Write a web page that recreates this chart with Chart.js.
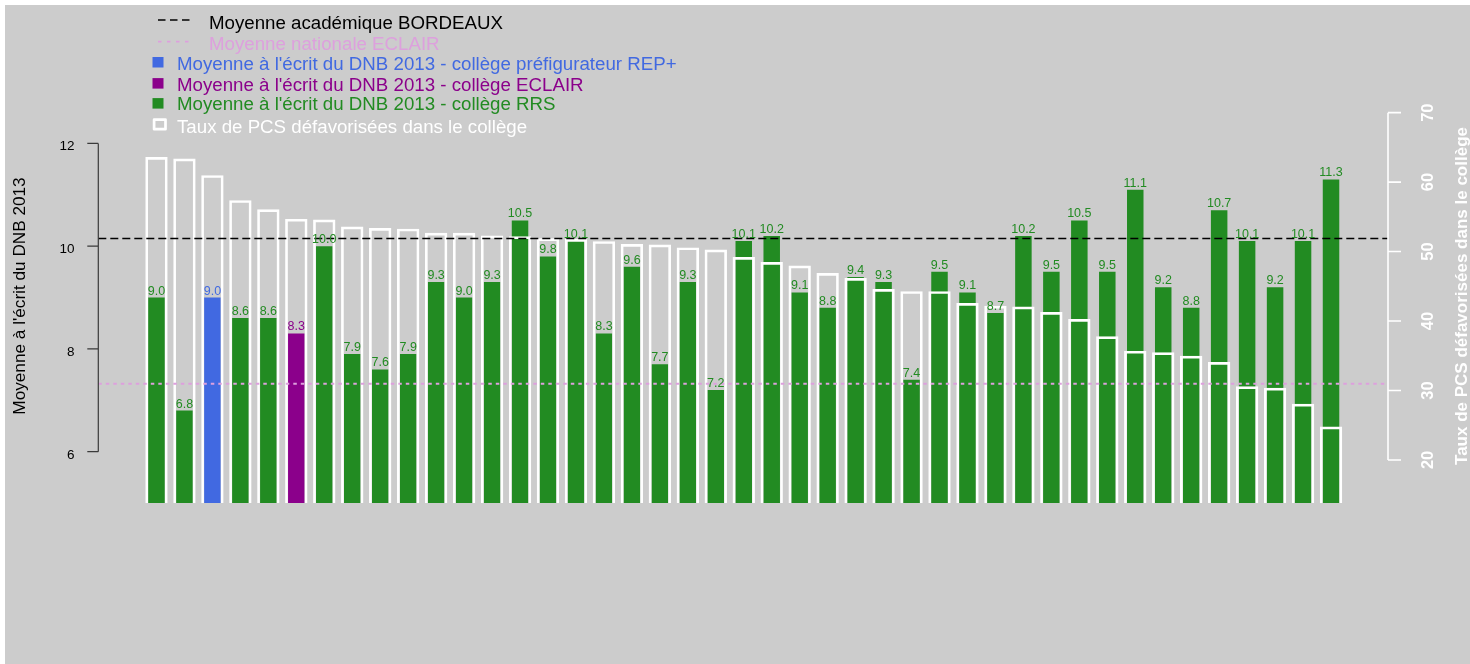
<!DOCTYPE html>
<html lang="fr">
<head>
<meta charset="utf-8">
<title>Moyenne à l'écrit du DNB 2013 et taux de PCS défavorisées</title>
<script src="https://cdn.jsdelivr.net/npm/chart.js@4.4.0/dist/chart.umd.min.js"></script>
<style>
    html, body { margin: 0; padding: 0; background: #ffffff; overflow: hidden; }
    canvas { display: block; }
</style>
</head>
<body>
<canvas id="dnb-chart" width="1470" height="664"></canvas>
<script>
// Moyenne à l'écrit du DNB 2013, par collège (triés par taux de PCS décroissant)
const dnbScores = [9.0, 6.8, 9.0, 8.6, 8.6, 8.3, 10.0, 7.9, 7.6, 7.9, 9.3, 9.0, 9.3, 10.5, 9.8,
    10.1, 8.3, 9.6, 7.7, 9.3, 7.2, 10.1, 10.2, 9.1, 8.8, 9.4, 9.3, 7.4, 9.5, 9.1,
    8.7, 10.2, 9.5, 10.5, 9.5, 11.1, 9.2, 8.8, 10.7, 10.1, 9.2, 10.1, 11.3];

// Taux de PCS défavorisées (%)
const pcsRates = [63.6, 63.4, 61.0, 57.4, 56.1, 54.7, 54.6, 53.6, 53.4, 53.3, 52.7, 52.7, 52.3, 52.2, 51.9,
    51.8, 51.5, 51.1, 51.0, 50.6, 50.3, 49.2, 48.5, 48.0, 46.9, 46.2, 44.6, 44.3, 44.3, 42.6,
    42.2, 42.1, 41.3, 40.3, 37.8, 35.7, 35.5, 35.0, 34.1, 30.6, 30.4, 28.1, 24.8];

const collegeTypes = ['RRS', 'RRS', 'REP+', 'RRS', 'RRS', 'ECLAIR', 'RRS', 'RRS', 'RRS', 'RRS',
    'RRS', 'RRS', 'RRS', 'RRS', 'RRS', 'RRS', 'RRS', 'RRS', 'RRS', 'RRS',
    'RRS', 'RRS', 'RRS', 'RRS', 'RRS', 'RRS', 'RRS', 'RRS', 'RRS', 'RRS',
    'RRS', 'RRS', 'RRS', 'RRS', 'RRS', 'RRS', 'RRS', 'RRS', 'RRS', 'RRS',
    'RRS', 'RRS', 'RRS'];

const colleges = dnbScores.map((_, i) => 'Collège ' + (i + 1));

const dnbTicks = [6, 8, 10, 12];
const pcsTicks = [20, 30, 40, 50, 60, 70];

const academicMean = 10.15;   // Moyenne académique BORDEAUX
const eclairMean = 7.32;      // Moyenne nationale ECLAIR

const typeColors = { 'REP+': '#4169e1', 'ECLAIR': '#8b008b', 'RRS': '#228b22' };

const legendItems = [
    { text: 'Moyenne académique BORDEAUX', color: '#000000', kind: 'dash' },
    { text: 'Moyenne nationale ECLAIR', color: '#dda0dd', kind: 'dot' },
    { text: "Moyenne à l'écrit du DNB 2013 - collège préfigurateur REP+", color: '#4169e1', kind: 'box' },
    { text: "Moyenne à l'écrit du DNB 2013 - collège ECLAIR", color: '#8b008b', kind: 'box' },
    { text: "Moyenne à l'écrit du DNB 2013 - collège RRS", color: '#228b22', kind: 'box' },
    { text: 'Taux de PCS défavorisées dans le collège', color: '#ffffff', kind: 'outline' }
];

const FONT = "'Liberation Sans', Arial, sans-serif";
const AXIS_LEFT = 98.3;
const AXIS_RIGHT = 1388;

document.addEventListener('DOMContentLoaded', function() {
    const canvas = document.getElementById('dnb-chart');

    function hLine(ctx, y, color, width, dash) {
        ctx.save();
        ctx.strokeStyle = color;
        ctx.lineWidth = width;
        ctx.setLineDash(dash);
        ctx.beginPath();
        ctx.moveTo(AXIS_LEFT, y);
        ctx.lineTo(AXIS_RIGHT, y);
        ctx.stroke();
        ctx.restore();
    }

    function rotatedText(ctx, text, x, y, font, color) {
        ctx.save();
        ctx.translate(x, y);
        ctx.rotate(-Math.PI / 2);
        ctx.font = font;
        ctx.fillStyle = color;
        ctx.textAlign = 'center';
        ctx.textBaseline = 'alphabetic';
        ctx.fillText(text, 0, 0);
        ctx.restore();
    }

    // R-like drawing: background, reference lines, labels, axes and legend
    const rStyle = {
        id: 'rStyle',
        beforeDraw(chart) {
            const ctx = chart.ctx;
            ctx.save();
            ctx.fillStyle = '#ffffff';
            ctx.fillRect(0, 0, chart.width, chart.height);
            ctx.fillStyle = '#cccccc';
            ctx.fillRect(5, 5, chart.width - 5, chart.height - 5);
            ctx.restore();
        },
        afterDatasetsDraw(chart) {
            const ctx = chart.ctx;
            const yScale = chart.scales.y;

            hLine(ctx, yScale.getPixelForValue(academicMean), '#000000', 1.5, [8, 4]);
            hLine(ctx, yScale.getPixelForValue(eclairMean), '#dda0dd', 2, [3.5, 4]);

            // values above the bars
            const meta = chart.getDatasetMeta(1);
            ctx.save();
            ctx.font = '12.5px ' + FONT;
            ctx.textAlign = 'center';
            ctx.textBaseline = 'alphabetic';
            meta.data.forEach(function(bar, i) {
                ctx.fillStyle = typeColors[collegeTypes[i]];
                ctx.fillText(dnbScores[i].toFixed(1), bar.x, bar.y - 3);
            });
            ctx.restore();
        },
        afterDraw(chart) {
            const ctx = chart.ctx;
            const yScale = chart.scales.y;
            const y2Scale = chart.scales.y2;

            // left axis
            ctx.save();
            ctx.strokeStyle = '#3a3a3a';
            ctx.lineWidth = 1.2;
            ctx.beginPath();
            ctx.moveTo(AXIS_LEFT, yScale.getPixelForValue(dnbTicks[0]));
            ctx.lineTo(AXIS_LEFT, yScale.getPixelForValue(dnbTicks[dnbTicks.length - 1]));
            dnbTicks.forEach(function(t) {
                const py = yScale.getPixelForValue(t);
                ctx.moveTo(AXIS_LEFT - 11, py);
                ctx.lineTo(AXIS_LEFT, py);
            });
            ctx.stroke();
            ctx.fillStyle = '#000000';
            ctx.font = '13.5px ' + FONT;
            ctx.textAlign = 'right';
            ctx.textBaseline = 'alphabetic';
            dnbTicks.forEach(function(t) {
                ctx.fillText(String(t), 74.5, yScale.getPixelForValue(t) + 7);
            });
            ctx.restore();
            rotatedText(ctx, "Moyenne à l'écrit du DNB 2013", 25.2, 296, '17.2px ' + FONT, '#000000');

            // right axis
            ctx.save();
            ctx.strokeStyle = '#ffffff';
            ctx.lineWidth = 1.6;
            ctx.beginPath();
            ctx.moveTo(AXIS_RIGHT, y2Scale.getPixelForValue(pcsTicks[0]));
            ctx.lineTo(AXIS_RIGHT, y2Scale.getPixelForValue(pcsTicks[pcsTicks.length - 1]));
            pcsTicks.forEach(function(t) {
                const py = y2Scale.getPixelForValue(t);
                ctx.moveTo(AXIS_RIGHT, py);
                ctx.lineTo(AXIS_RIGHT + 13, py);
            });
            ctx.stroke();
            ctx.restore();
            pcsTicks.forEach(function(t) {
                rotatedText(ctx, String(t), 1432.5, y2Scale.getPixelForValue(t), 'bold 16.5px ' + FONT, '#ffffff');
            });
            rotatedText(ctx, 'Taux de PCS défavorisées dans le collège', 1466.5, 296, 'bold 17px ' + FONT, '#ffffff');

            // legend
            const rows = [
                { sy: 20, base: 28.5, tx: 209 },
                { sy: 41.7, base: 50, tx: 209 },
                { sy: 62.2, base: 69.5, tx: 177 },
                { sy: 83.3, base: 90.7, tx: 177 },
                { sy: 103.3, base: 110.3, tx: 177 },
                { sy: 124.2, base: 133, tx: 177 }
            ];
            ctx.save();
            ctx.font = '18.7px ' + FONT;
            ctx.textAlign = 'left';
            ctx.textBaseline = 'alphabetic';
            legendItems.forEach(function(item, i) {
                const r = rows[i];
                ctx.fillStyle = item.color;
                ctx.strokeStyle = item.color;
                if (item.kind === 'dash' || item.kind === 'dot') {
                    ctx.lineWidth = item.kind === 'dash' ? 1.5 : 1.8;
                    ctx.setLineDash(item.kind === 'dash' ? [7.5, 4.5] : [3.5, 5.5]);
                    ctx.beginPath();
                    ctx.moveTo(158, r.sy);
                    ctx.lineTo(190, r.sy);
                    ctx.stroke();
                    ctx.setLineDash([]);
                } else if (item.kind === 'box') {
                    ctx.fillRect(152.5, r.sy - 5.2, 11, 10.5);
                } else {
                    ctx.lineWidth = 2.7;
                    ctx.lineJoin = 'round';
                    ctx.strokeRect(154.1, r.sy - 4.6, 11.4, 9.6);
                }
                ctx.fillText(item.text, r.tx, r.base);
            });
            ctx.restore();
        }
    };

    new Chart(canvas, {
        type: 'bar',
        data: {
            labels: colleges,
            datasets: [{
                label: 'Taux de PCS défavorisées dans le collège',
                data: pcsRates,
                yAxisID: 'y2',
                backgroundColor: 'rgba(0, 0, 0, 0)',
                borderColor: '#ffffff',
                borderWidth: 2.7,
                barPercentage: 0.8,
                categoryPercentage: 1,
                grouped: false
            }, {
                label: "Moyenne à l'écrit du DNB 2013",
                data: dnbScores,
                yAxisID: 'y',
                backgroundColor: collegeTypes.map(t => typeColors[t]),
                borderWidth: 0,
                barPercentage: 0.59,
                categoryPercentage: 1,
                grouped: false
            }]
        },
        options: {
            responsive: false,
            animation: false,
            events: [],
            layout: {
                padding: { left: 142.5, right: 125, top: 15, bottom: 161 }
            },
            plugins: {
                legend: { display: false },
                tooltip: { enabled: false }
            },
            scales: {
                x: { display: false, offset: true },
                y: { display: false, min: 5, max: 14.5 },
                y2: { display: false, min: 13.8, max: 84.06 }
            }
        },
        plugins: [rStyle]
    });
});
</script>
</body>
</html>
